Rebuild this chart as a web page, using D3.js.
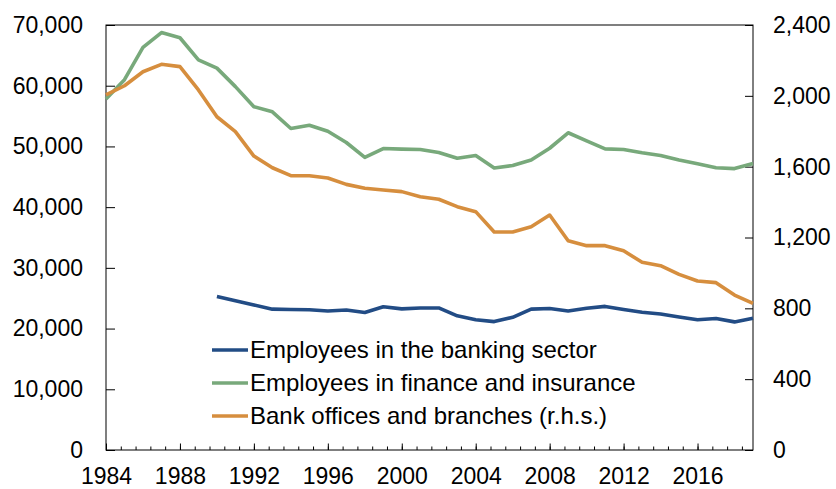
<!DOCTYPE html>
<html>
<head>
<meta charset="utf-8">
<script src="https://cdn.jsdelivr.net/npm/d3@7/dist/d3.min.js"></script>
<style>
  html, body { margin: 0; padding: 0; background: #fff; }
  svg { display: block; font-family: "Liberation Sans", Arial, sans-serif; }
</style>
</head>
<body>
<svg id="chart" width="836" height="489"></svg>
<script>
// ---- Data ----
const years = d3.range(1984, 2020);

const bankingYears = d3.range(1990, 2020);
const bankingEmployees = [
  25300, 24600, 23900, 23200, 23150, 23100, 22900, 23050, 22650, 23600,
  23250, 23400, 23400, 22100, 21450, 21150, 21850, 23200, 23300, 22900,
  23350, 23650, 23150, 22700, 22400, 21900, 21450, 21650, 21100, 21700
];

const financeEmployees = [
  57800, 61000, 66300, 68750, 67900, 64250, 62900, 59850, 56550, 55700,
  52950, 53500, 52500, 50650, 48200, 49650, 49550, 49500, 49000, 48050,
  48500, 46450, 46850, 47750, 49700, 52250, 50900, 49600, 49500, 48950,
  48500, 47750, 47150, 46500, 46350, 47200
];

const bankOffices = [
  2005, 2057, 2136, 2178, 2165, 2033, 1882, 1798, 1660, 1594,
  1549, 1549, 1536, 1500, 1478, 1468, 1459, 1430, 1416, 1374,
  1346, 1231, 1231, 1261, 1327, 1182, 1154, 1154, 1125, 1060,
  1041, 992, 954, 945, 875, 828
];

const xTickLabels = ["1984", "1988", "1992", "1996", "2000", "2004", "2008", "2012", "2016"];
const leftTicks = [0, 10000, 20000, 30000, 40000, 50000, 60000, 70000];
const rightTicks = [0, 400, 800, 1200, 1600, 2000, 2400];

const seriesNames = [
  "Employees in the banking sector",
  "Employees in finance and insurance",
  "Bank offices and branches (r.h.s.)"
];
const seriesColors = ["#224c85", "#78a97b", "#d68e3e"];

// ---- Layout ----
const plotLeft = 106, plotRight = 753, plotTop = 25, plotBottom = 450;
const fontSize = 23;
const legendFontSize = 24;

const svg = d3.select("#chart");

const x = d3.scaleLinear().domain([1984, 2019]).range([plotLeft, plotRight]);
const yL = d3.scaleLinear().domain([0, 70000]).range([plotBottom, plotTop]);
const yR = d3.scaleLinear().domain([0, 2400]).range([plotBottom, plotTop]);

const fmt = d3.format(",");

// Left axis
const gL = svg.append("g").attr("transform", `translate(${plotLeft},0)`)
  .call(d3.axisLeft(yL).tickValues(leftTicks).tickFormat(fmt)
    .tickSizeInner(-9).tickSizeOuter(0).tickPadding(23));
// Right axis
const gR = svg.append("g").attr("transform", `translate(${plotRight},0)`)
  .call(d3.axisRight(yR).tickValues(rightTicks).tickFormat(fmt)
    .tickSizeInner(-8).tickSizeOuter(0).tickPadding(20));

// Bottom axis: minor ticks
const minorTicks = d3.range(0, 44).map(i => 1984 + i * 0.8);
const gMinor = svg.append("g").attr("transform", `translate(0,${plotBottom})`)
  .call(d3.axisBottom(x).tickValues(minorTicks).tickFormat("")
    .tickSizeInner(-3.5).tickSizeOuter(0));
// Bottom axis: major ticks + labels
const gB = svg.append("g").attr("transform", `translate(0,${plotBottom})`)
  .call(d3.axisBottom(x).tickValues(xTickLabels.map(Number)).tickFormat(d => String(d))
    .tickSizeInner(-6.5).tickSizeOuter(0).tickPadding(18));

[gL, gR, gB, gMinor].forEach(g => {
  g.select(".domain").remove();
  g.selectAll(".tick line").attr("stroke", "#000").attr("stroke-width", 1);
  g.selectAll("text").attr("font-size", fontSize).attr("fill", "#000")
    .attr("font-family", "'Liberation Sans', Arial, sans-serif");
});

// Plot frame
svg.append("rect")
  .attr("x", plotLeft).attr("y", plotTop)
  .attr("width", plotRight - plotLeft).attr("height", plotBottom - plotTop)
  .attr("fill", "none").attr("stroke", "#000").attr("stroke-width", 1);

// ---- Lines ----
const lineL = (xs) => d3.line().x((d, i) => x(xs[i])).y(d => yL(d));
const lineR = (xs) => d3.line().x((d, i) => x(xs[i])).y(d => yR(d));

svg.append("path").datum(financeEmployees)
  .attr("d", lineL(years))
  .attr("fill", "none").attr("stroke", seriesColors[1])
  .attr("stroke-width", 3.6).attr("stroke-linejoin", "round");

svg.append("path").datum(bankOffices)
  .attr("d", lineR(years))
  .attr("fill", "none").attr("stroke", seriesColors[2])
  .attr("stroke-width", 3.6).attr("stroke-linejoin", "round");

svg.append("path").datum(bankingEmployees)
  .attr("d", lineL(bankingYears))
  .attr("fill", "none").attr("stroke", seriesColors[0])
  .attr("stroke-width", 3.6).attr("stroke-linejoin", "round");

// ---- Legend ----
const legend = svg.append("g").attr("transform", "translate(212,350)");
seriesNames.forEach((name, i) => {
  const g = legend.append("g").attr("transform", `translate(0,${i * 33})`);
  g.append("line").attr("x1", 0).attr("x2", 36).attr("y1", 0).attr("y2", 0)
    .attr("stroke", seriesColors[i]).attr("stroke-width", 3.6);
  g.append("text").attr("x", 38).attr("y", 0).attr("dy", "0.32em")
    .attr("font-size", legendFontSize).attr("fill", "#000").text(name);
});
</script>
</body>
</html>
